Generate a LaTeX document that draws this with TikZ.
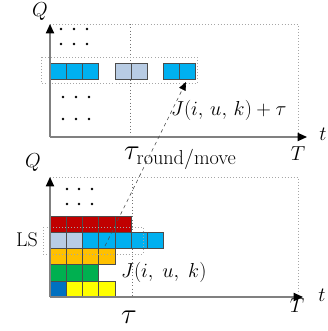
\documentclass[tikz,border=0pt]{standalone}
\usepackage{amsmath}
\usetikzlibrary{arrows.meta}
\definecolor{cellblue}{RGB}{0,176,240}
\definecolor{cellgray}{RGB}{184,204,228}
\definecolor{cellred}{RGB}{192,0,0}
\definecolor{cellorange}{RGB}{255,192,0}
\definecolor{cellgreen}{RGB}{0,176,80}
\definecolor{celldark}{RGB}{0,112,192}
\definecolor{cellyellow}{RGB}{255,255,0}
\definecolor{axisgray}{RGB}{128,128,128}
\tikzset{
  cell/.style={draw=black!70,line width=0.5pt},
  axis/.style={axisgray,line width=1.2pt,-{Triangle[length=8pt,width=7pt,color=black]}},
  border/.style={black!35,dotted,line width=0.6pt},
  tauline/.style={black!55,dotted,line width=0.8pt},
  lbl/.style={inner sep=0pt,font=\fontsize{17}{20}\selectfont},
  jlbl/.style={inner sep=0pt,font=\fontsize{17}{20}\selectfont,anchor=west}
}
\begin{document}
\begin{tikzpicture}[x=0.03cm,y=-0.03cm]
    \useasboundingbox (0,0) rectangle (327,331);
    % upper panel
    \draw[border] (50,24)--(298,24)--(298,137);
    \draw[tauline] (130,24)--(130,137);
    \draw[border] (41,57) rectangle (197,83);
    \foreach \i in {0,1,2} \draw[cell,fill=cellblue] (50+16*\i,63) rectangle ++(16,16);
    \foreach \i in {0,1} \draw[cell,fill=cellgray] (115+16*\i,63) rectangle ++(16,16);
    \foreach \i in {0,1} \draw[cell,fill=cellblue] (163+16*\i,63) rectangle ++(16,16);
    \foreach \y in {29,44} \foreach \x in {61,74,87} \fill (\x,\y) circle (1.3);
    \foreach \y in {97,119} \foreach \x in {63,76,89} \fill (\x,\y) circle (1.3);
    \draw[axis] (50,137)--(50,24);
    \draw[axis] (50,137)--(307,137);
    \node[lbl] (qtop) at (40,12) {$Q$};
    \node[lbl] (ttop) at (323,134) {$t$};
    \node[lbl] (Ttop) at (298,154) {$T$};
    \node[inner sep=0pt,font=\fontsize{24}{28}\selectfont,anchor=west] (tauround) at (124,158) {$\tau_{\mathrm{round/move}}$};
    \node[jlbl] (jplus) at (171,110) {$J(i,\,u,\,k)+\tau$};
    % lower panel
    \draw[border] (50,177)--(298,177)--(298,297);
    \draw[tauline] (132,177)--(132,297);
    \foreach \i in {0,...,4} \draw[cell,fill=cellred] (50+16.2*\i,216) rectangle ++(16.2,16.2);
    \foreach \i/\c in {0/cellgray,1/cellgray,2/cellblue,3/cellblue,4/cellblue,5/cellblue,6/cellblue}
        \draw[cell,fill=\c] (50+16.2*\i,232.2) rectangle ++(16.2,16.2);
    \foreach \i in {0,...,3} \draw[cell,fill=cellorange] (50+16.2*\i,248.4) rectangle ++(16.2,16.2);
    \foreach \i in {0,1,2} \draw[cell,fill=cellgreen] (50+16.2*\i,264.6) rectangle ++(16.2,16.2);
    \foreach \i/\c in {0/celldark,1/cellyellow,2/cellyellow,3/cellyellow}
        \draw[cell,fill=\c] (50+16.2*\i,280.8) rectangle ++(16.2,16.2);
    \draw[border] (43,227) rectangle (143,254);
    \foreach \y in {189,204} \foreach \x in {67,79,92} \fill (\x,\y) circle (1.3);
    \draw[axis] (50,297)--(50,177);
    \draw[axis] (50,297)--(303,297);
    \node[lbl] (qbot) at (33,163) {$Q$};
    \node[lbl] (tbot) at (322,295) {$t$};
    \node[lbl] (Tbot) at (297,306) {$T$};
    \node[lbl] (ls) at (27,240) {LS};
    \node[jlbl] (jbase) at (121,272) {$J(i,\;u,\;k)$};
    \node[inner sep=0pt,font=\fontsize{32}{36}\selectfont] (taubot) at (129,317) {$\tau$};
    % move of the job
    \coordinate (jstart) at (105,246);
    \coordinate (jend) at (186,82);
    \draw[black!70,dashed,line width=0.5pt,-{Triangle[length=7pt,width=6pt,color=black]}] (jstart)--(jend);
\end{tikzpicture}
\end{document}
